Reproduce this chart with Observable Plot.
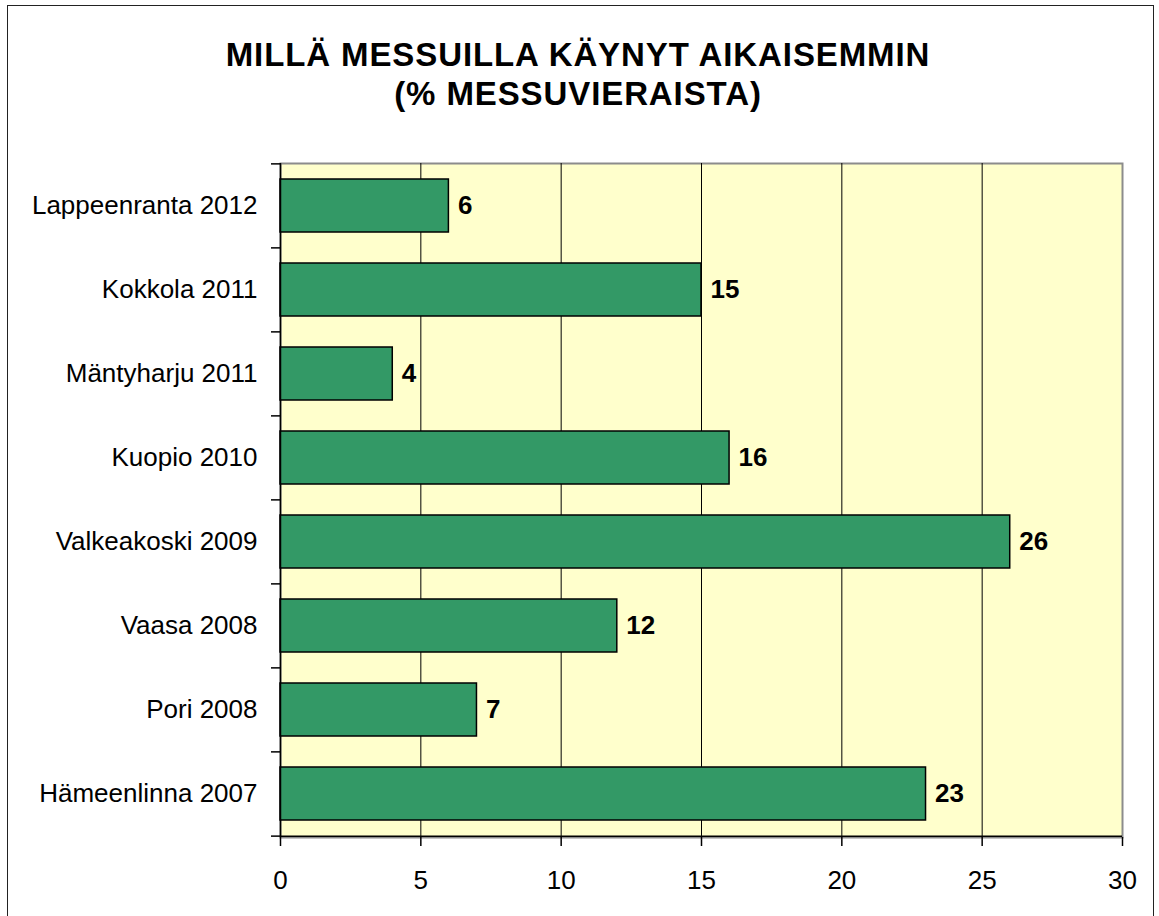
<!DOCTYPE html>
<html>
<head>
<meta charset="utf-8">
<script src="https://cdn.jsdelivr.net/npm/d3@7"></script>
<script src="https://cdn.jsdelivr.net/npm/@observablehq/plot@0.6"></script>
<style>
  body { margin: 0; background: #fff; }
  #page { position: relative; width: 1159px; height: 916px; overflow: hidden; background: #fff; font-family: "Liberation Sans", Arial, sans-serif; }
  #border { position: absolute; left: 7px; top: 5px; width: 1147px; height: 930px; border: 1.5px solid #222; box-sizing: border-box; }
  #title { position: absolute; left: 0; top: 35px; width: 1156px; text-align: center; font-weight: bold; font-size: 33px; line-height: 39px; letter-spacing: 0.9px; color: #000; }
  #chart { position: absolute; left: 0; top: 130px; }
</style>
</head>
<body>
<div id="page">
  <div id="border"></div>
  <div id="title">MILLÄ MESSUILLA KÄYNYT AIKAISEMMIN<br>(% MESSUVIERAISTA)</div>
  <div id="chart"></div>
</div>
<script>
const categories = ["Lappeenranta 2012", "Kokkola 2011", "Mäntyharju 2011", "Kuopio 2010", "Valkeakoski 2009", "Vaasa 2008", "Pori 2008", "Hämeenlinna 2007"];
const values = [6, 15, 4, 16, 26, 12, 7, 23];
const xTicks = [0, 5, 10, 15, 20, 25, 30];
const gridTicks = [5, 10, 15, 20, 25];

const data = categories.map((c, i) => ({label: c, value: values[i]}));

const W = 1159, H = 786;
const mt = 33, mb = 79, ml = 280, mr = 37;
const step = (H - mt - mb) / categories.length;
const font = "Liberation Sans, Arial, sans-serif";

const chart = Plot.plot({
  width: W,
  height: H,
  marginTop: mt,
  marginBottom: mb,
  marginLeft: ml,
  marginRight: mr,
  style: {fontFamily: font, fontSize: "26px", color: "#000", background: "transparent"},
  x: {domain: [0, 30], ticks: xTicks, label: null},
  y: {domain: categories, paddingInner: 0.367, paddingOuter: 0.1835, label: null},
  marks: [
    Plot.frame({fill: "#FFFFCC", stroke: "#8c8c8c", strokeWidth: 2}),
    Plot.ruleX(gridTicks, {stroke: "#000", strokeWidth: 1}),
    Plot.barX(data, {x: "value", y: "label", fill: "#339966", stroke: "#000", strokeWidth: 1.5}),
    Plot.text(data, {x: "value", y: "label", text: d => String(d.value), dx: 9, textAnchor: "start", fontWeight: "bold", fontSize: 26, fill: "#000"}),
    Plot.ruleX([0], {stroke: "#000", strokeWidth: 1.5}),
    Plot.ruleY([categories[categories.length - 1]], {dy: step / 2, stroke: "#000", strokeWidth: 1.5}),
    Plot.ruleY(categories, {x1: 0, x2: 0, insetLeft: -9, dy: -step / 2, stroke: "#000", strokeWidth: 1.5}),
    Plot.ruleY([categories[categories.length - 1]], {x1: 0, x2: 0, insetLeft: -9, dy: step / 2, stroke: "#000", strokeWidth: 1.5}),
    Plot.axisY({tickSize: 0, tickPadding: 23, fontSize: 26, label: null}),
    Plot.axisX({ticks: xTicks, tickSize: 9, tickPadding: 24, fontSize: 26, label: null, stroke: "#000", strokeWidth: 1.5})
  ]
});
document.getElementById("chart").appendChild(chart);
</script>
</body>
</html>
